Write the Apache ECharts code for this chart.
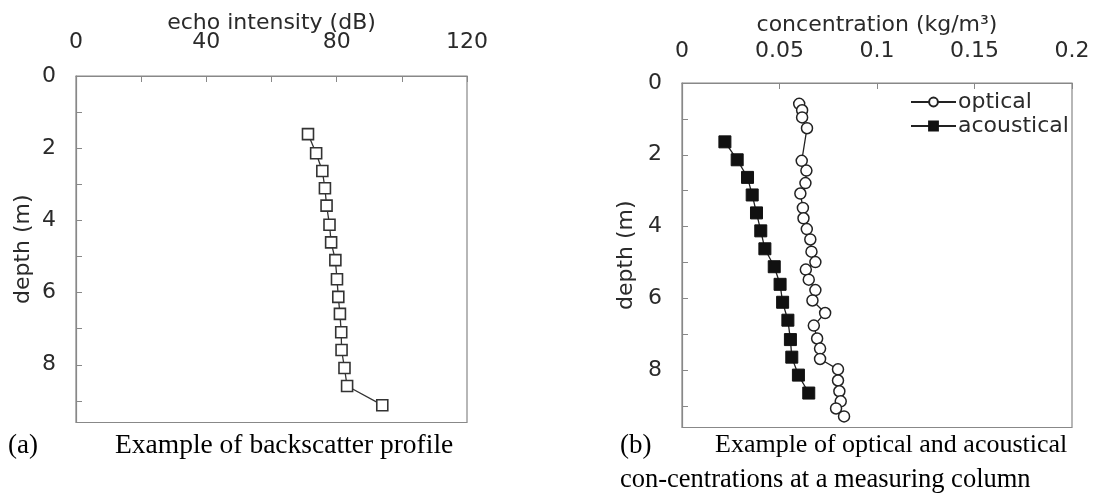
<!DOCTYPE html>
<html>
<head>
<meta charset="utf-8">
<script src="https://cdn.jsdelivr.net/npm/echarts@6/dist/echarts.min.js"></script>
<style>
  html, body { margin: 0; padding: 0; background: #fff; }
  #main { width: 1095px; height: 496px; }
</style>
</head>
<body>
<div id="main"></div>
<script>
// (a) backscatter profile
var echoDepth = [1.61, 2.14, 2.63, 3.11, 3.59, 4.12, 4.61, 5.10, 5.63, 6.12, 6.59, 7.10, 7.59, 8.09, 8.59, 9.12];
var echoDb    = [71.2, 73.7, 75.6, 76.4, 76.9, 77.8, 78.3, 79.6, 80.1, 80.5, 81.0, 81.4, 81.5, 82.4, 83.2, 94.0];

// (b) optical / acoustical concentrations
var optDepth = [0.58, 0.76, 0.96, 1.26, 2.17, 2.44, 2.79, 3.08, 3.48, 3.77, 4.07, 4.36, 4.70, 4.99, 5.20, 5.48,
                5.77, 6.06, 6.41, 6.76, 7.12, 7.40, 7.69, 7.98, 8.29, 8.59, 8.87, 9.07, 9.29];
var optConc  = [0.0601, 0.0616, 0.0616, 0.0641, 0.0614, 0.0638, 0.0633, 0.0607, 0.0620, 0.0623, 0.0640, 0.0658,
                0.0664, 0.0684, 0.0635, 0.0650, 0.0684, 0.0669, 0.0734, 0.0676, 0.0693, 0.0708, 0.0708, 0.0800,
                0.0800, 0.0807, 0.0814, 0.0790, 0.0831];
var acDepth  = [1.64, 2.14, 2.63, 3.12, 3.62, 4.12, 4.62, 5.12, 5.61, 6.11, 6.61, 7.15, 7.64, 8.14, 8.64];
var acConc   = [0.0220, 0.0283, 0.0336, 0.0360, 0.0382, 0.0404, 0.0425, 0.0473, 0.0503, 0.0516, 0.0543,
                0.0556, 0.0563, 0.0597, 0.0650];

var sans = 'DejaVu Sans';
var axisCol = '#888';
var txtCol = '#2a2a2a';

function pairs(xs, ys) {
    return xs.map(function (x, i) { return [x, ys[i]]; });
}

function depthAxis(gridIndex, gap) {
    return {
        gridIndex: gridIndex,
        type: 'value',
        inverse: true,
        min: 0,
        max: 9.6,
        interval: 1,
        name: 'depth (m)',
        nameLocation: 'middle',
        nameGap: gap,
        nameMoveOverlap: false,
        nameTextStyle: { fontFamily: sans, fontSize: 22, color: txtCol },
        axisLine: { show: true, lineStyle: { color: axisCol, width: 1.2 } },
        axisTick: { show: true, inside: true, length: 6, lineStyle: { color: axisCol } },
        axisLabel: {
            margin: 20,
            fontFamily: sans, fontSize: 22, color: txtCol,
            interval: 0,
            formatter: function (v) { return (v % 2 === 0) ? String(v) : ''; }
        },
        splitLine: { show: false }
    };
}

var chart = echarts.init(document.getElementById('main'));
var option = {
    animation: false,
    backgroundColor: '#fff',
    grid: [
        { left: 76, top: 76, width: 391, height: 346.5, outerBoundsMode: 'none',
          show: true, borderColor: axisCol, borderWidth: 1.2 },
        { left: 682, top: 83, width: 390, height: 344.5, outerBoundsMode: 'none',
          show: true, borderColor: axisCol, borderWidth: 1.2 }
    ],
    xAxis: [
        {
            gridIndex: 0, type: 'value', position: 'top',
            min: 0, max: 120, interval: 20,
            name: 'echo intensity (dB)', nameLocation: 'middle', nameGap: 42,
            nameMoveOverlap: false,
            nameTextStyle: { fontFamily: sans, fontSize: 22, color: txtCol },
            axisLine: { show: true, lineStyle: { color: axisCol, width: 1.2 } },
            axisTick: { show: true, inside: true, length: 6, lineStyle: { color: axisCol } },
            axisLabel: {
                margin: 23, fontFamily: sans, fontSize: 22, color: txtCol, interval: 0,
                formatter: function (v) { return (v % 40 === 0) ? String(v) : ''; }
            },
            splitLine: { show: false }
        },
        {
            gridIndex: 1, type: 'value', position: 'top',
            min: 0, max: 0.2, interval: 0.05,
            name: 'concentration (kg/m³)', nameLocation: 'middle', nameGap: 47,
            nameMoveOverlap: false,
            nameTextStyle: { fontFamily: sans, fontSize: 22, color: txtCol },
            axisLine: { show: true, lineStyle: { color: axisCol, width: 1.2 } },
            axisTick: { show: true, inside: true, length: 6, lineStyle: { color: axisCol } },
            axisLabel: { margin: 21, fontFamily: sans, fontSize: 22, color: txtCol, interval: 0 },
            splitLine: { show: false }
        }
    ],
    yAxis: [depthAxis(0, 42), depthAxis(1, 45)],
    legend: {
        orient: 'vertical',
        left: 905, top: 86,
        itemWidth: 45, itemHeight: 11, itemGap: 2,
        textStyle: { fontFamily: sans, fontSize: 22, color: txtCol, padding: [0, 0, 0, -3] },
        data: ['optical', 'acoustical']
    },
    series: [
        {
            name: 'echo', type: 'line', xAxisIndex: 0, yAxisIndex: 0,
            data: pairs(echoDb, echoDepth),
            symbol: 'rect', symbolSize: 11,
            lineStyle: { color: '#333', width: 1.3 },
            itemStyle: { color: '#fff', borderColor: '#333', borderWidth: 1.6 }
        },
        {
            name: 'optical', type: 'line', xAxisIndex: 1, yAxisIndex: 1,
            data: pairs(optConc, optDepth),
            symbol: 'circle', symbolSize: 11,
            lineStyle: { color: '#222', width: 1.3 },
            itemStyle: { color: '#fff', borderColor: '#222', borderWidth: 1.5 }
        },
        {
            name: 'acoustical', type: 'line', xAxisIndex: 1, yAxisIndex: 1,
            data: pairs(acConc, acDepth),
            symbol: 'rect', symbolSize: 12,
            lineStyle: { color: '#222', width: 1.3 },
            itemStyle: { color: '#111', borderColor: '#111', borderWidth: 1 }
        }
    ],
    graphic: [
        { type: 'text', left: 8, top: 432, style: { text: '(a)', font: '27px "Liberation Serif"', fill: '#000' } },
        { type: 'text', left: 115, top: 432, style: { text: 'Example of backscatter profile', font: '27.5px "Liberation Serif"', fill: '#000' } },
        { type: 'text', left: 620, top: 432, style: { text: '(b)', font: '27px "Liberation Serif"', fill: '#000' } },
        { type: 'text', left: 715, top: 432, style: { text: 'Example of optical and acoustical', font: '26px "Liberation Serif"', fill: '#000' } },
        { type: 'text', left: 620, top: 467, style: { text: 'con-centrations at a measuring column', font: '26.5px "Liberation Serif"', fill: '#000' } }
    ]
};
chart.setOption(option);
</script>
</body>
</html>
